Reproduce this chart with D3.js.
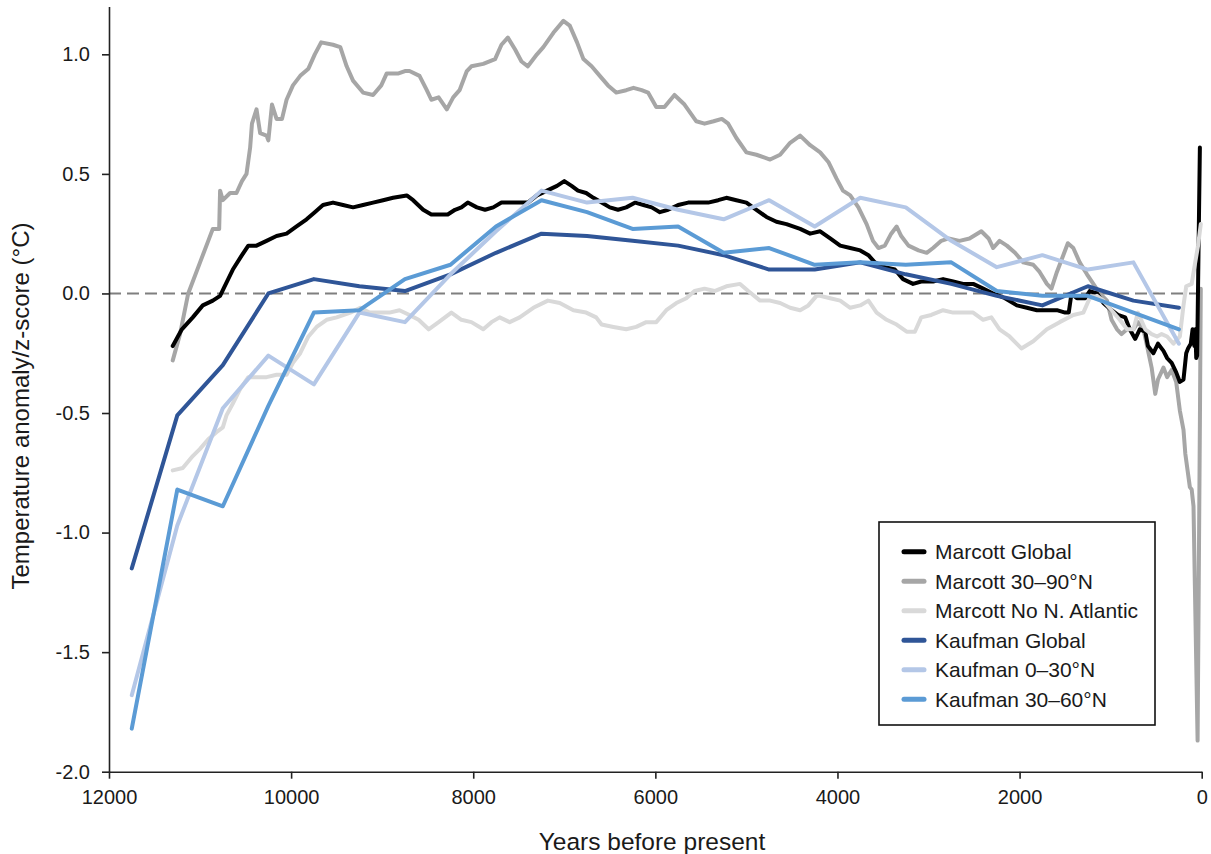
<!DOCTYPE html>
<html>
<head>
<meta charset="utf-8">
<script src="https://cdn.jsdelivr.net/npm/d3@7"></script>
<style>
  body { margin: 0; background: #fff; }
  svg { font-family: "Liberation Sans", Arial, sans-serif; }
</style>
</head>
<body>
<svg id="chart" width="1211" height="854"></svg>
<script>
// Marcott series: [years before present, anomaly]
const marcottGlobal = [
  [11300,-0.22],[11200,-0.15],[11080,-0.10],[10970,-0.05],[10860,-0.03],[10780,-0.01],[10730,0.03],[10640,0.10],
  [10540,0.16],[10470,0.20],[10380,0.20],[10270,0.22],[10160,0.24],[10050,0.25],[9940,0.28],[9830,0.31],
  [9740,0.34],[9650,0.37],[9540,0.38],[9430,0.37],[9320,0.36],[9210,0.37],[9100,0.38],[8990,0.39],
  [8880,0.40],[8730,0.41],[8660,0.39],[8550,0.35],[8460,0.33],[8370,0.33],[8280,0.33],[8200,0.35],
  [8130,0.36],[8060,0.38],[7960,0.36],[7870,0.35],[7780,0.36],[7690,0.38],[7600,0.38],[7490,0.38],
  [7400,0.38],[7300,0.41],[7190,0.43],[7080,0.45],[7000,0.47],[6920,0.45],[6850,0.43],[6760,0.42],
  [6680,0.40],[6590,0.38],[6500,0.36],[6410,0.35],[6320,0.36],[6220,0.38],[6130,0.37],[6040,0.36],
  [5950,0.34],[5860,0.35],[5750,0.37],[5640,0.38],[5530,0.38],[5420,0.38],[5310,0.39],[5220,0.40],
  [5110,0.39],[5000,0.38],[4890,0.35],[4780,0.32],[4670,0.30],[4560,0.29],[4410,0.27],[4300,0.25],
  [4190,0.26],[4080,0.23],[3970,0.20],[3860,0.19],[3750,0.18],[3660,0.16],[3590,0.13],[3480,0.11],
  [3370,0.10],[3280,0.06],[3170,0.04],[3080,0.05],[2950,0.05],[2840,0.06],[2730,0.05],[2620,0.04],
  [2510,0.04],[2400,0.02],[2290,0.00],[2160,-0.02],[2030,-0.05],[1920,-0.06],[1810,-0.07],[1700,-0.07],
  [1590,-0.07],[1500,-0.08],[1460,-0.08],[1430,0.00],[1370,-0.02],[1280,-0.02],[1230,0.01],[1150,0.00],
  [1080,-0.04],[990,-0.07],[920,-0.09],[840,-0.10],[790,-0.15],[730,-0.19],[680,-0.15],[620,-0.16],
  [590,-0.22],[530,-0.25],[480,-0.21],[420,-0.24],[380,-0.27],[330,-0.29],[280,-0.33],[240,-0.37],
  [200,-0.36],[170,-0.25],[150,-0.23],[120,-0.21],[100,-0.15],[80,-0.22],[70,-0.15],[60,-0.27],
  [50,-0.26],[20,0.61]
];

const marcott30to90N = [
  [11300,-0.28],[11220,-0.17],[11130,0.00],[11000,0.13],[10910,0.22],[10860,0.27],[10790,0.27],[10780,0.43],
  [10750,0.39],[10670,0.42],[10600,0.42],[10540,0.47],[10490,0.50],[10450,0.61],[10430,0.71],[10380,0.77],
  [10340,0.67],[10270,0.66],[10250,0.64],[10210,0.79],[10160,0.73],[10100,0.73],[10050,0.81],[9980,0.87],
  [9900,0.91],[9810,0.94],[9740,1.00],[9670,1.05],[9540,1.04],[9460,1.03],[9390,0.95],[9320,0.89],
  [9210,0.84],[9100,0.83],[9010,0.87],[8950,0.92],[8820,0.92],[8750,0.93],[8700,0.93],[8590,0.91],
  [8510,0.85],[8460,0.81],[8380,0.82],[8290,0.77],[8220,0.82],[8150,0.85],[8070,0.93],[8020,0.95],
  [7890,0.96],[7760,0.98],[7690,1.04],[7620,1.07],[7540,1.02],[7470,0.97],[7400,0.95],[7300,1.00],
  [7230,1.03],[7120,1.09],[7010,1.14],[6940,1.12],[6860,1.05],[6790,0.98],[6700,0.95],[6610,0.91],
  [6520,0.87],[6430,0.84],[6320,0.85],[6240,0.86],[6150,0.85],[6080,0.84],[5990,0.78],[5900,0.78],
  [5790,0.83],[5680,0.79],[5550,0.72],[5460,0.71],[5360,0.72],[5270,0.73],[5200,0.71],[5110,0.65],
  [5000,0.59],[4890,0.58],[4740,0.56],[4630,0.58],[4520,0.63],[4410,0.66],[4300,0.62],[4190,0.59],
  [4100,0.55],[4010,0.48],[3940,0.43],[3860,0.41],[3770,0.36],[3680,0.29],[3610,0.22],[3550,0.19],
  [3480,0.20],[3410,0.25],[3350,0.28],[3300,0.24],[3220,0.20],[3110,0.18],[3020,0.17],[2950,0.19],
  [2860,0.22],[2780,0.23],[2660,0.22],[2550,0.23],[2420,0.26],[2340,0.23],[2290,0.19],[2220,0.22],
  [2140,0.20],[2050,0.17],[1960,0.13],[1850,0.12],[1780,0.09],[1700,0.04],[1650,0.02],[1590,0.09],
  [1520,0.16],[1470,0.21],[1410,0.19],[1340,0.13],[1260,0.08],[1190,0.04],[1120,0.00],[1040,-0.03],
  [990,-0.11],[930,-0.15],[880,-0.17],[820,-0.15],[750,-0.15],[700,-0.12],[640,-0.15],[600,-0.22],
  [550,-0.31],[510,-0.42],[480,-0.36],[420,-0.31],[380,-0.35],[330,-0.32],[280,-0.37],[240,-0.49],
  [200,-0.57],[180,-0.67],[130,-0.81],[110,-0.82],[90,-0.89],[75,-1.22],[45,-1.87],[20,-0.55],[10,0.02]
];

const marcottNoNAtlantic = [
  [11300,-0.74],[11190,-0.73],[11080,-0.68],[11000,-0.65],[10910,-0.61],[10820,-0.58],[10750,-0.56],[10710,-0.51],
  [10640,-0.46],[10560,-0.40],[10470,-0.35],[10380,-0.35],[10270,-0.35],[10160,-0.34],[10050,-0.34],[9980,-0.29],
  [9900,-0.25],[9810,-0.18],[9720,-0.14],[9610,-0.11],[9500,-0.10],[9350,-0.08],[9240,-0.06],[9140,-0.08],
  [9030,-0.08],[8920,-0.08],[8810,-0.07],[8700,-0.09],[8600,-0.11],[8490,-0.15],[8380,-0.12],[8240,-0.08],
  [8130,-0.11],[8020,-0.12],[7890,-0.15],[7800,-0.12],[7710,-0.10],[7600,-0.12],[7490,-0.10],[7340,-0.06],
  [7180,-0.03],[7050,-0.04],[6900,-0.07],[6760,-0.08],[6650,-0.10],[6590,-0.13],[6460,-0.14],[6320,-0.15],
  [6210,-0.14],[6100,-0.12],[5990,-0.12],[5880,-0.07],[5770,-0.04],[5660,-0.02],[5570,0.01],[5460,0.02],
  [5350,0.01],[5220,0.03],[5070,0.04],[4980,0.01],[4850,-0.03],[4740,-0.03],[4630,-0.04],[4520,-0.06],
  [4410,-0.07],[4320,-0.05],[4230,-0.01],[4190,-0.01],[4080,-0.02],[3970,-0.03],[3860,-0.06],[3750,-0.05],
  [3660,-0.03],[3570,-0.08],[3460,-0.11],[3350,-0.13],[3240,-0.16],[3150,-0.16],[3080,-0.10],[2970,-0.09],
  [2840,-0.07],[2730,-0.08],[2620,-0.08],[2510,-0.08],[2400,-0.11],[2310,-0.10],[2220,-0.15],[2110,-0.18],
  [1980,-0.23],[1850,-0.20],[1700,-0.15],[1560,-0.12],[1410,-0.09],[1300,-0.08],[1230,-0.02],[1150,-0.01],
  [1080,-0.03],[990,-0.07],[900,-0.11],[820,-0.15],[750,-0.15],[700,-0.08],[620,-0.15],[550,-0.17],
  [490,-0.18],[440,-0.17],[380,-0.18],[310,-0.21],[240,-0.18],[200,-0.05],[170,0.03],[110,0.04],
  [80,0.11],[40,0.20],[10,0.29]
];

// Kaufman series: 500-year bins
const kaufmanYears = [11750,11250,10750,10250,9750,9250,8750,8250,7750,7250,6750,6250,
                      5750,5250,4750,4250,3750,3250,2750,2250,1750,1250,750,250];
const kaufmanGlobal = [-1.15,-0.51,-0.30,0.00,0.06,0.03,0.01,0.08,0.17,0.25,0.24,0.22,
                       0.20,0.16,0.10,0.10,0.13,0.08,0.04,-0.01,-0.05,0.03,-0.03,-0.06];
const kaufman0to30N = [-1.68,-0.97,-0.48,-0.26,-0.38,-0.08,-0.12,0.08,0.26,0.43,0.38,0.40,
                       0.35,0.31,0.39,0.28,0.40,0.36,0.22,0.11,0.16,0.10,0.13,-0.21];
const kaufman30to60N = [-1.82,-0.82,-0.89,-0.47,-0.08,-0.07,0.06,0.12,0.28,0.39,0.34,0.27,
                        0.28,0.17,0.19,0.12,0.13,0.12,0.13,0.01,-0.01,-0.01,-0.08,-0.15];

const xTicks = [12000, 10000, 8000, 6000, 4000, 2000, 0];
const yTicks = [-2.0, -1.5, -1.0, -0.5, 0.0, 0.5, 1.0];

const legendNames = ["Marcott Global", "Marcott 30\u201390\u00b0N", "Marcott No N. Atlantic",
                     "Kaufman Global", "Kaufman 0\u201330\u00b0N", "Kaufman 30\u201360\u00b0N"];
const legendColors = ["#000000", "#a6a6a6", "#d9d9d9", "#2f5597", "#b4c7e7", "#5b9bd5"];

const svg = d3.select("#chart");

const x = d3.scaleLinear().domain([12000, 0]).range([109, 1201.7]);
const y = d3.scaleLinear().domain([-2, 1.2]).range([771.7, 6.5]);

// zero reference
svg.append("line")
  .attr("x1", x(12000)).attr("x2", x(0))
  .attr("y1", y(0)).attr("y2", y(0))
  .attr("stroke", "#7f7f7f")
  .attr("stroke-width", 2)
  .attr("stroke-dasharray", "12,6");

const line = d3.line()
  .x(d => x(d[0]))
  .y(d => y(d[1]));

const kaufmanPairs = vals => kaufmanYears.map((yr, i) => [yr, vals[i]]);

const series = [
  {data: marcott30to90N, color: legendColors[1]},
  {data: marcottGlobal, color: legendColors[0]},
  {data: marcottNoNAtlantic, color: legendColors[2]},
  {data: kaufmanPairs(kaufmanGlobal), color: legendColors[3]},
  {data: kaufmanPairs(kaufman0to30N), color: legendColors[4]},
  {data: kaufmanPairs(kaufman30to60N), color: legendColors[5]}
];

svg.selectAll("path.series")
  .data(series)
  .enter()
  .append("path")
  .attr("class", "series")
  .attr("d", d => line(d.data))
  .attr("fill", "none")
  .attr("stroke", d => d.color)
  .attr("stroke-width", 4)
  .attr("stroke-linejoin", "round")
  .attr("stroke-linecap", "round");

// axes
const xAxis = svg.append("g")
  .attr("transform", "translate(0," + y(-2) + ")")
  .call(d3.axisBottom(x).tickValues(xTicks).tickFormat(d3.format("d"))
    .tickSize(7).tickSizeOuter(0).tickPadding(11));

const yAxis = svg.append("g")
  .attr("transform", "translate(" + x(12000) + ",0)")
  .call(d3.axisLeft(y).tickValues(yTicks).tickFormat(d => d.toFixed(1))
    .tickSize(7).tickSizeOuter(0).tickPadding(12));

[xAxis, yAxis].forEach(g => {
  g.select(".domain").attr("stroke", "#222").attr("stroke-width", 1.6);
  g.selectAll(".tick line").attr("stroke", "#222").attr("stroke-width", 1.6);
  g.selectAll(".tick text")
    .attr("fill", "#1a1a1a")
    .style("font-size", "20px")
    .style("font-family", "'Liberation Sans', Arial, sans-serif");
});

svg.append("text")
  .attr("transform", "translate(29,406) rotate(-90)")
  .attr("text-anchor", "middle")
  .attr("fill", "#1a1a1a")
  .style("font-size", "24px")
  .text("Temperature anomaly/z-score (\u00b0C)");

svg.append("text")
  .attr("x", 652)
  .attr("y", 850)
  .attr("text-anchor", "middle")
  .attr("fill", "#1a1a1a")
  .style("font-size", "24.5px")
  .text("Years before present");

// legend
const legend = svg.append("g");
legend.append("rect")
  .attr("x", 879).attr("y", 522)
  .attr("width", 276).attr("height", 203)
  .attr("fill", "#fff")
  .attr("stroke", "#111")
  .attr("stroke-width", 1.6);

const items = legend.selectAll("g.item")
  .data(legendNames)
  .enter()
  .append("g")
  .attr("class", "item")
  .attr("transform", (d, i) => "translate(0," + (551.7 + i * 29.5) + ")");

items.append("line")
  .attr("x1", 904).attr("x2", 924)
  .attr("stroke", (d, i) => legendColors[i])
  .attr("stroke-width", 5)
  .attr("stroke-linecap", "round");

items.append("text")
  .attr("x", 935)
  .attr("dy", "0.35em")
  .attr("fill", "#1a1a1a")
  .style("font-size", "21px")
  .text(d => d);
</script>
</body>
</html>
